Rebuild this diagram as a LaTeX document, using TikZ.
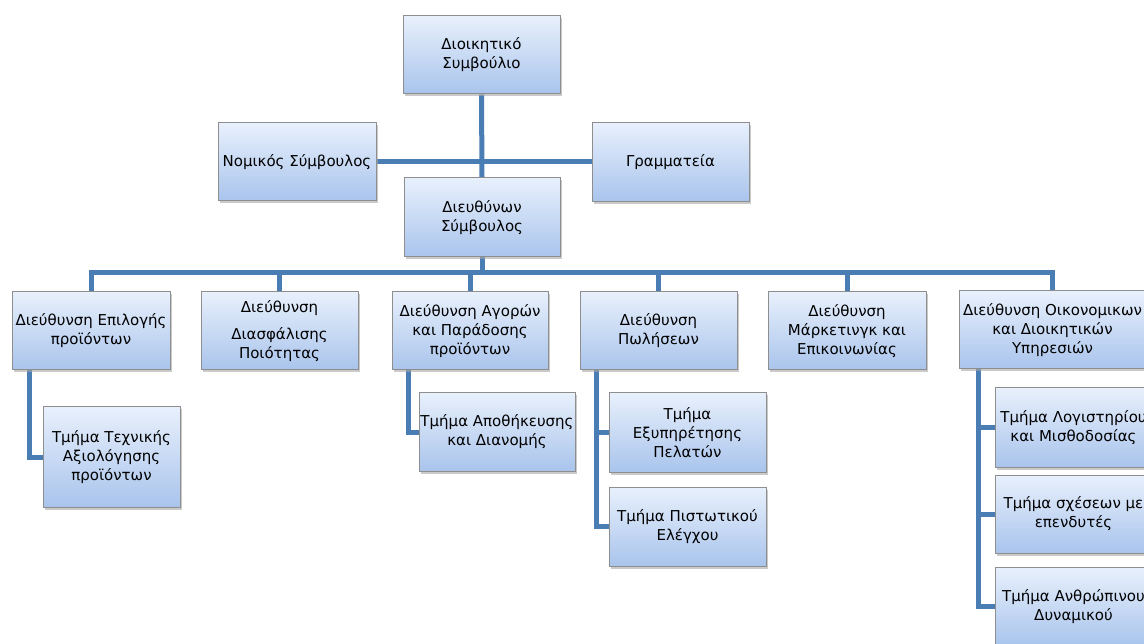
\documentclass[tikz,border=0pt]{standalone}
\usepackage{fontspec}
\setmainfont{DejaVu Sans}
\usetikzlibrary{shadows,backgrounds}
\definecolor{linec}{HTML}{4A7DB4}
\definecolor{boxtop}{HTML}{E8F0FC}
\definecolor{boxbot}{HTML}{A9C4EC}
\definecolor{boxborder}{HTML}{8E8E8E}
\tikzset{
  orgbox/.style={draw=boxborder, line width=1pt, top color=boxtop, bottom color=boxbot,
    minimum width=157pt, minimum height=78pt, align=center, inner sep=1pt,
    font=\fontsize{15}{19}\selectfont,
    drop shadow={shadow xshift=2pt, shadow yshift=-2.5pt, fill=black!35, opacity=0.6}},
  conn/.style={draw=linec, line width=5pt}
}
\begin{document}
\begin{tikzpicture}[x=1pt,y=-1pt]
\clip (0,0) rectangle (1144,644);
% top level
\node[orgbox] (top) at (481.5,55) {Διοικητικό\\Συμβούλιο};
\node[orgbox, minimum width=158pt] (nom) at (297,162) {Νομικός Σύμβουλος};
\node[orgbox, minimum height=79pt] (gram) at (670.5,162) {Γραμματεία};
\node[orgbox, minimum width=156pt, minimum height=79pt] (ceo) at (482,217.5) {Διευθύνων\\Σύμβουλος};
% directorates
\node[orgbox, minimum width=158pt] (d1) at (91,331) {Διεύθυνση Επιλογής\\προϊόντων};
\node[orgbox] (d2) at (279.5,331) {Διεύθυνση\\[8pt]Διασφάλισης\\Ποιότητας};
\node[orgbox, minimum width=156pt] (d3) at (470,331) {Διεύθυνση Αγορών\\και Παράδοσης\\προϊόντων};
\node[orgbox] (d4) at (658.5,331) {Διεύθυνση\\Πωλήσεων};
\node[orgbox, minimum width=158pt] (d5) at (847,331) {Διεύθυνση\\Μάρκετινγκ και\\Επικοινωνίας};
\node[orgbox, minimum width=187pt] (d6) at (1052.5,330) {Διεύθυνση Οικονομικων\\και Διοικητικών\\Υπηρεσιών};
% departments
\node[orgbox, minimum width=137pt, minimum height=100pt] (t1) at (111.5,457) {Τμήμα Τεχνικής\\Αξιολόγησης\\προϊόντων};
\node[orgbox, minimum width=156pt] (t2) at (497,432) {Τμήμα Αποθήκευσης\\και Διανομής};
\node[orgbox, minimum height=79pt] (t3) at (687.5,432.5) {Τμήμα\\Εξυπηρέτησης\\Πελατών};
\node[orgbox, minimum height=79pt] (t4) at (687.5,526.5) {Τμήμα Πιστωτικού\\Ελέγχου};
\node[orgbox, minimum height=79pt] (t5) at (1073.5,427.5) {Τμήμα Λογιστηρίου\\και Μισθοδοσίας};
\node[orgbox] (t6) at (1073.5,514) {Τμήμα σχέσεων με\\επενδυτές};
\node[orgbox, minimum height=79pt] (t7) at (1073.5,606.5) {Τμήμα Ανθρώπινου\\Δυναμικού};
\coordinate (bus) at (482,273);
\begin{scope}[on background layer]
\draw[conn] (top.south) -- (ceo.north);
\draw[conn] (nom.east) -- (gram.west);
\draw[conn] (ceo.south) -- (bus);
\draw[conn] (d1.north) -- (d1.north |- bus) -- (d6.north |- bus) -- (d6.north);
\foreach \n in {d2,d3,d4,d5} \draw[conn] (\n.north) -- (\n.north |- bus);
\draw[conn] ([xshift=-62pt]d1.south) |- (t1.west);
\draw[conn] ([xshift=-62pt]d3.south) |- (t2.west);
\draw[conn] ([xshift=-62.5pt]d4.south) |- (t3.west);
\draw[conn] ([xshift=-62.5pt]d4.south) |- (t4.west);
\draw[conn] ([xshift=-74.5pt]d6.south) |- (t5.west);
\draw[conn] ([xshift=-74.5pt]d6.south) |- (t6.west);
\draw[conn] ([xshift=-74.5pt]d6.south) |- (t7.west);
\end{scope}
\end{tikzpicture}
\end{document}
